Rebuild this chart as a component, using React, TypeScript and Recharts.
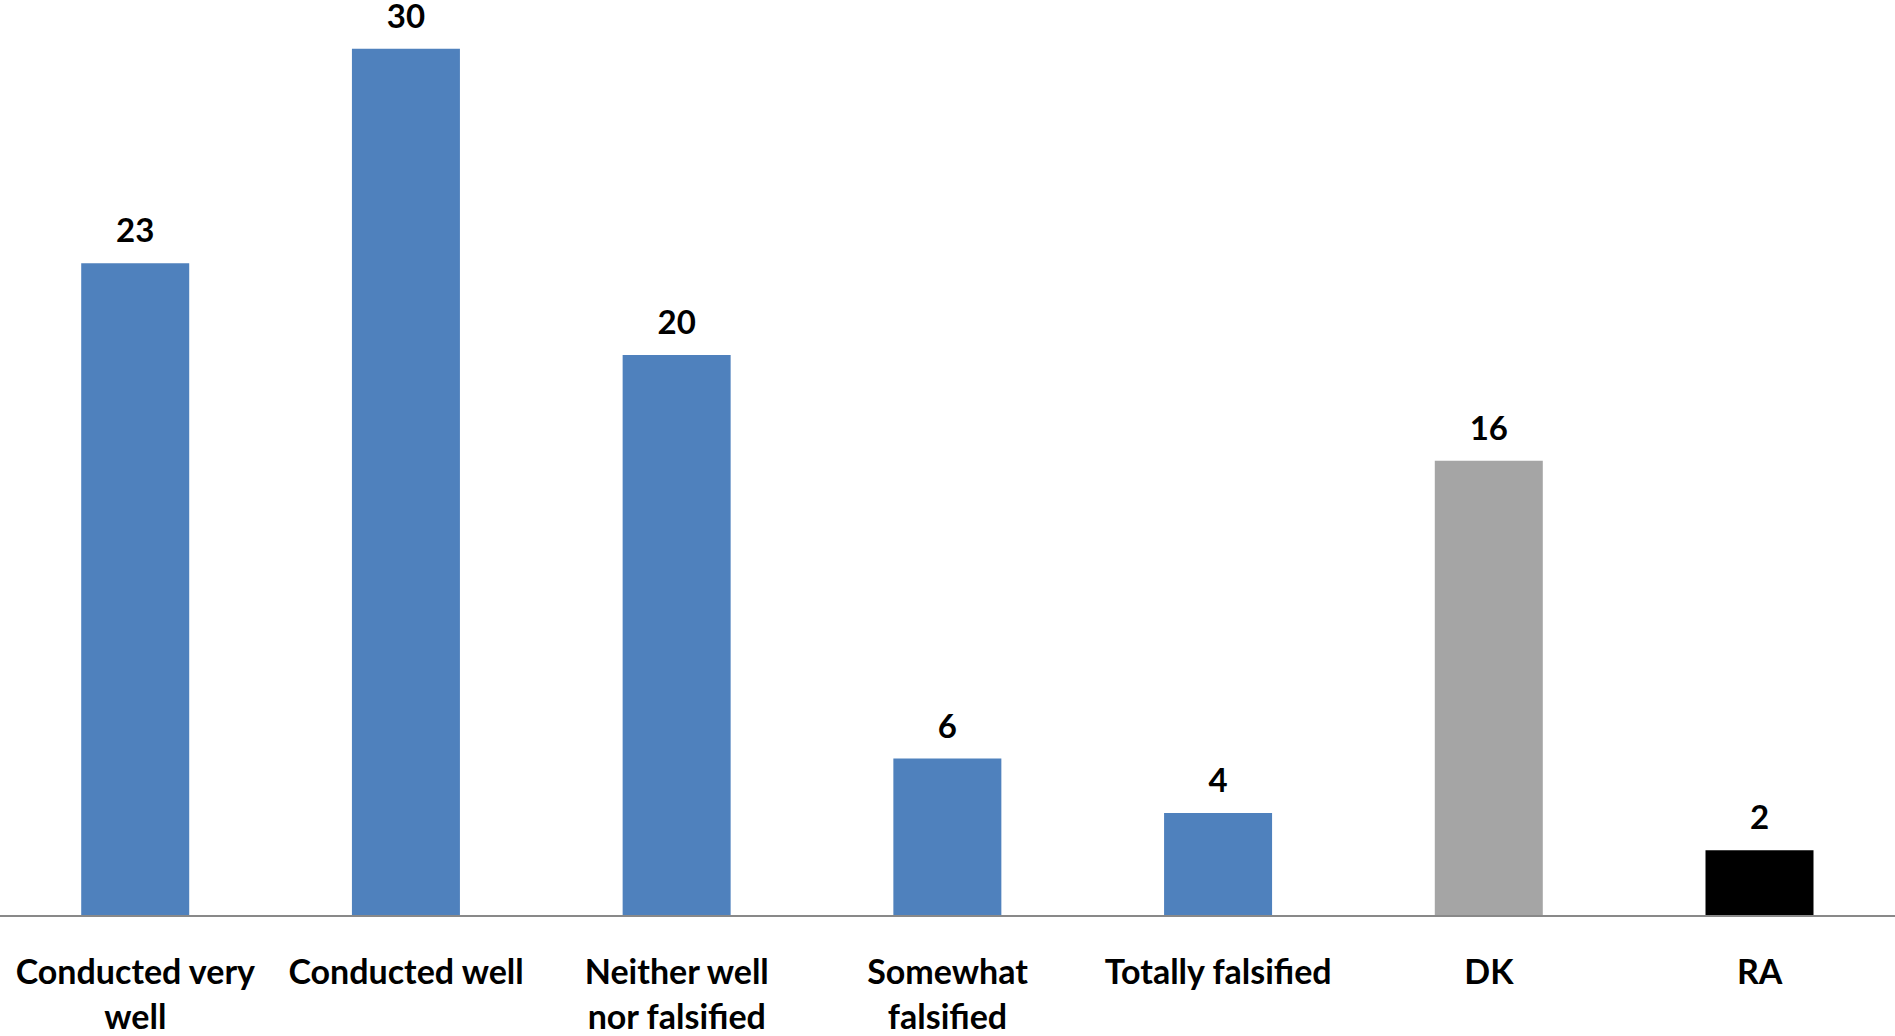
import { Bar, BarChart, Cell, LabelList, XAxis, YAxis } from "recharts";

// survey answers, share of respondents (%)
const categories = [
  "Conducted very\nwell",
  "Conducted well",
  "Neither well\nnor falsified",
  "Somewhat\nfalsified",
  "Totally falsified",
  "DK",
  "RA"
];
const shares = [22.8, 30.3, 19.6, 5.5, 3.6, 15.9, 2.3];
const barColors = ["#4F81BD", "#4F81BD", "#4F81BD", "#4F81BD", "#4F81BD", "#A5A5A5", "#000000"];
const yDomain = [0, 32];

const data = categories.map((name, i) => ({ name, share: shares[i] }));

const FONT = "Lato, 'Open Sans', sans-serif";

function CategoryTick({ x, y, payload }: any) {
  const lines = String(payload.value).split("\n");
  return (
    <text
      x={x}
      y={y}
      textAnchor="middle"
      fontFamily={FONT}
      fontWeight={700}
      fontSize={34}
      fill="#000"
    >
      {lines.map((line, i) => (
        <tspan key={i} x={x} dy={i === 0 ? 60 : 45}>
          {line}
        </tspan>
      ))}
    </text>
  );
}

function ValueLabel({ x, y, width, value }: any) {
  return (
    <text
      x={x + width / 2}
      y={y - 21}
      textAnchor="middle"
      fontFamily={FONT}
      fontWeight={700}
      fontSize={33}
      fill="#000"
    >
      {Math.round(value)}
    </text>
  );
}

export default function App() {
  return (
    <div style={{ position: "absolute", left: 0, top: 0, background: "#fff" }}>
      <BarChart
        width={1895}
        height={1036}
        data={data}
        margin={{ top: 0, right: 0, left: 0, bottom: 0 }}
        barCategoryGap="30%"
      >
        <XAxis
          dataKey="name"
          height={120}
          interval={0}
          tickLine={false}
          axisLine={{ stroke: "#898989", strokeWidth: 2 }}
          tick={<CategoryTick />}
        />
        <YAxis hide domain={yDomain} />
        <Bar dataKey="share" isAnimationActive={false}>
          {data.map((d, i) => (
            <Cell key={d.name} fill={barColors[i]} />
          ))}
          <LabelList dataKey="share" content={<ValueLabel />} />
        </Bar>
      </BarChart>
    </div>
  );
}
